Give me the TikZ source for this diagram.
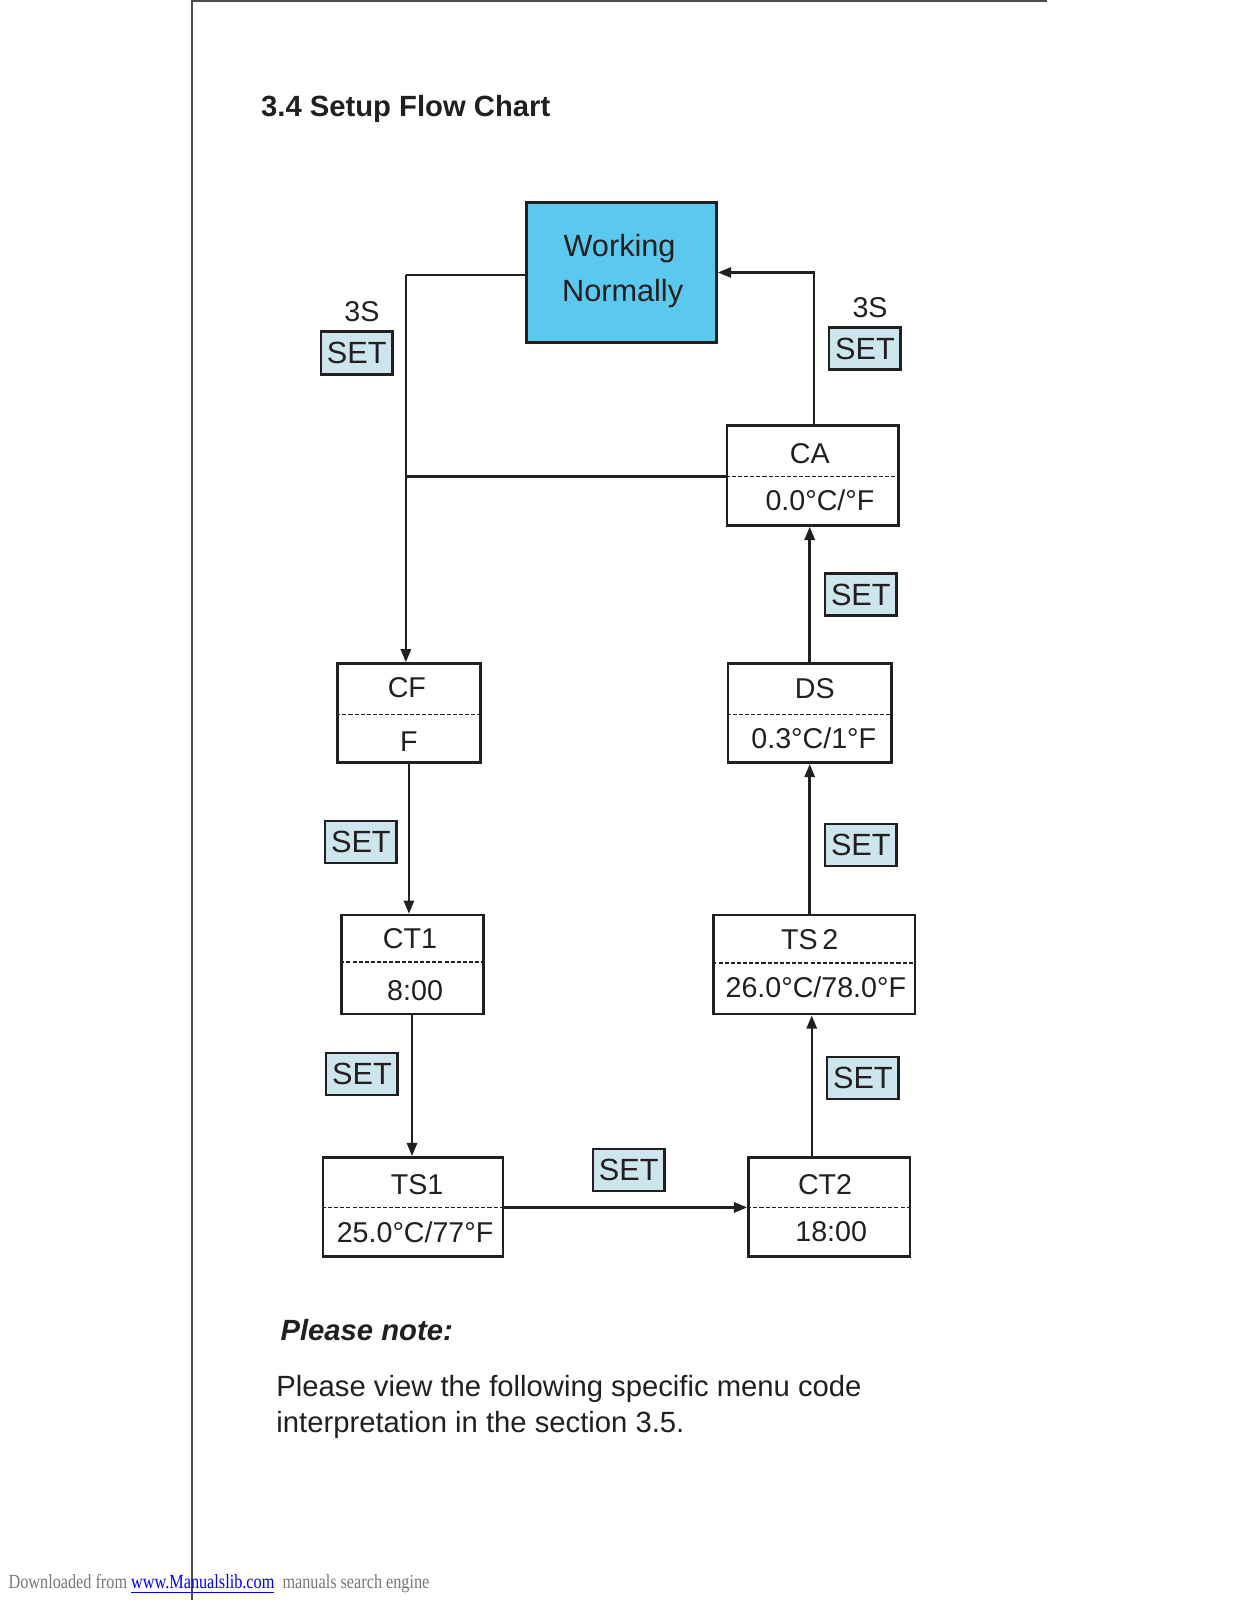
\documentclass[tikz,border=0pt]{standalone}
\usepackage{fontspec}
\setmainfont{Liberation Sans}
\newfontfamily\serfont{Liberation Serif}
\usetikzlibrary{arrows.meta}
\definecolor{ink}{HTML}{231F20}
\definecolor{wnblue}{HTML}{5BC8EE}
\definecolor{setblue}{HTML}{CDE5EC}
\definecolor{pagegray}{HTML}{4D4D4D}
\definecolor{footgray}{HTML}{777777}
\definecolor{linkblue}{HTML}{0000EE}
\begin{document}
\begin{tikzpicture}[x=0.5pt,y=-0.5pt,
  box/.style={draw=ink, line width=1.2pt, rectangle, inner sep=0pt},
  setbox/.style={draw=ink, line width=1.3pt, fill=setblue, minimum width=35pt, minimum height=21pt, inner sep=0pt, font=\fontsize{15}{15}\selectfont, text=ink},
  lbl/.style={anchor=base, inner sep=0pt, font=\fontsize{14}{14}\selectfont, text=ink},
  wlbl/.style={anchor=base, inner sep=0pt, font=\fontsize{15}{15}\selectfont, text=ink},
  conn/.style={draw=ink, line width=1.2pt},
  arr/.style={conn, -{Triangle[length=6.5pt,width=5pt]}},
  dsh/.style={draw=ink, line width=0.8pt, dash pattern=on 2pt off 1pt},
  plain/.style={anchor=base west, inner sep=0pt, text=ink}]
\useasboundingbox (0,0) rectangle (1210,1565);
\fill[white] (0,0) rectangle (1210,1565);

% page frame
\draw[pagegray, line width=0.8pt] (188,1565) -- (188,1) -- (1024,1);

% title
\node[plain, font=\bfseries\fontsize{14.3}{14.3}\selectfont] (title) at (255,114) {3.4 Setup Flow Chart};

% boxes
\node[box, fill=wnblue, minimum width=93pt, minimum height=68.5pt] (wn) at (608,266.5) {};
\node[box, minimum width=84pt, minimum height=49pt] (ca) at (795,465) {};
\node[box, minimum width=80pt, minimum height=48.5pt] (ds) at (792,697.5) {};
\node[box, minimum width=98.5pt, minimum height=48.5pt] (ts2) at (796.5,943.5) {};
\node[box, minimum width=79pt, minimum height=48.5pt] (ct2) at (811,1180.5) {};
\node[box, minimum width=88pt, minimum height=48.5pt] (ts1) at (404,1180.5) {};
\node[box, minimum width=69.5pt, minimum height=48.5pt] (ct1) at (403.5,943.5) {};
\node[box, minimum width=70pt, minimum height=48.5pt] (cf) at (400,697.5) {};

% dashed dividers
\draw[dsh] (ca.west |- 0,466) -- (ca.east |- 0,466);
\draw[dsh] (ds.west |- 0,699) -- (ds.east |- 0,699);
\draw[dsh] (ts2.west |- 0,942) -- (ts2.east |- 0,942);
\draw[dsh] (ct2.west |- 0,1181) -- (ct2.east |- 0,1181);
\draw[dsh] (ts1.west |- 0,1181) -- (ts1.east |- 0,1181);
\draw[dsh] (ct1.west |- 0,941) -- (ct1.east |- 0,941);
\draw[dsh] (cf.west |- 0,699) -- (cf.east |- 0,699);

% texts in boxes
\node[wlbl] (wn-t) at (606,251) {Working};
\node[wlbl] (wn-b) at (609,295) {Normally};
\node[lbl] (ca-t) at (792,453) {CA};
\node[lbl] (ca-b) at (802,499) {0.0°C/°F};
\node[lbl] (ds-t) at (797,683) {DS};
\node[lbl] (ds-b) at (796,732) {0.3°C/1°F};
\node[lbl] (ts2-t) at (792,929) {TS\,2};
\node[lbl] (ts2-b) at (798,976) {26.0°C/78.0°F};
\node[lbl] (ct2-t) at (807,1168) {CT2};
\node[lbl] (ct2-b) at (813,1214) {18:00};
\node[lbl] (ts1-t) at (408,1168) {TS1};
\node[lbl] (ts1-b) at (406,1215) {25.0°C/77°F};
\node[lbl] (ct1-t) at (401,928) {CT1};
\node[lbl] (ct1-b) at (406,979) {8:00};
\node[lbl] (cf-t) at (398,682) {CF};
\node[lbl] (cf-b) at (400,735) {F};

% SET keys
\node[setbox, minimum height=21pt] (s0) at (349,345) {SET};
\node[lbl] (s0-3s) at (354,314) {3S};
\node[setbox, minimum height=20.5pt] (s1) at (846,341) {SET};
\node[lbl] (s1-3s) at (851,311) {3S};
\node[setbox, minimum height=20.5pt] (s2) at (842,581.5) {SET};
\node[setbox, minimum height=20.5pt] (s3) at (842,826.5) {SET};
\node[setbox, minimum height=20.5pt] (s4) at (844,1054.5) {SET};
\node[setbox, minimum height=20.5pt] (s5) at (615,1144.5) {SET};
\node[setbox, minimum height=20.5pt] (s6) at (354,1050.5) {SET};
\node[setbox, minimum height=20.5pt] (s7) at (353,823.5) {SET};

% connectors
\coordinate (j1) at (397,269);
\draw[conn] (wn.west |- j1) -- (j1);
\draw[arr] (j1) -- (j1 |- cf.north);
\draw[conn] (ca.west |- 0,466) -- (j1 |- 0,466);
\draw[arr] (ca.north -| 796,0) |- (wn.east);
\draw[arr] (ds.north) -- (ds.north |- ca.south);
\draw[arr] (ds.south |- ts2.north) -- (ds.south);
\draw[arr] (794,0 |- ct2.north) -- (794,0 |- ts2.south);
\draw[arr] (ts1.east |- 0,1181) -- (ct2.west |- 0,1181);
\draw[arr] (ct1.south -| 403,0) -- (403,0 |- ts1.north);
\draw[arr] (cf.south) -- (cf.south |- ct1.north);

% note
\node[plain, font=\bfseries\itshape\fontsize{14.3}{14.3}\selectfont] (note) at (274,1311) {Please note:};
\node[plain, font=\fontsize{14.3}{14.3}\selectfont] (body1) at (270,1366) {Please view the following specific menu code};
\node[plain, font=\fontsize{14.3}{14.3}\selectfont] (body2) at (270,1401) {interpretation in the section 3.5.};

% footer
\node[anchor=base west, inner sep=0pt, font=\serfont\fontsize{9.8}{10}\selectfont] (foot) at (8,1554) {\scalebox{0.81}[1]{\textcolor{footgray}{Downloaded from }\textcolor{linkblue}{\underline{www.Manualslib.com}}\textcolor{footgray}{\ \ manuals search engine}}};
\end{tikzpicture}
\end{document}
